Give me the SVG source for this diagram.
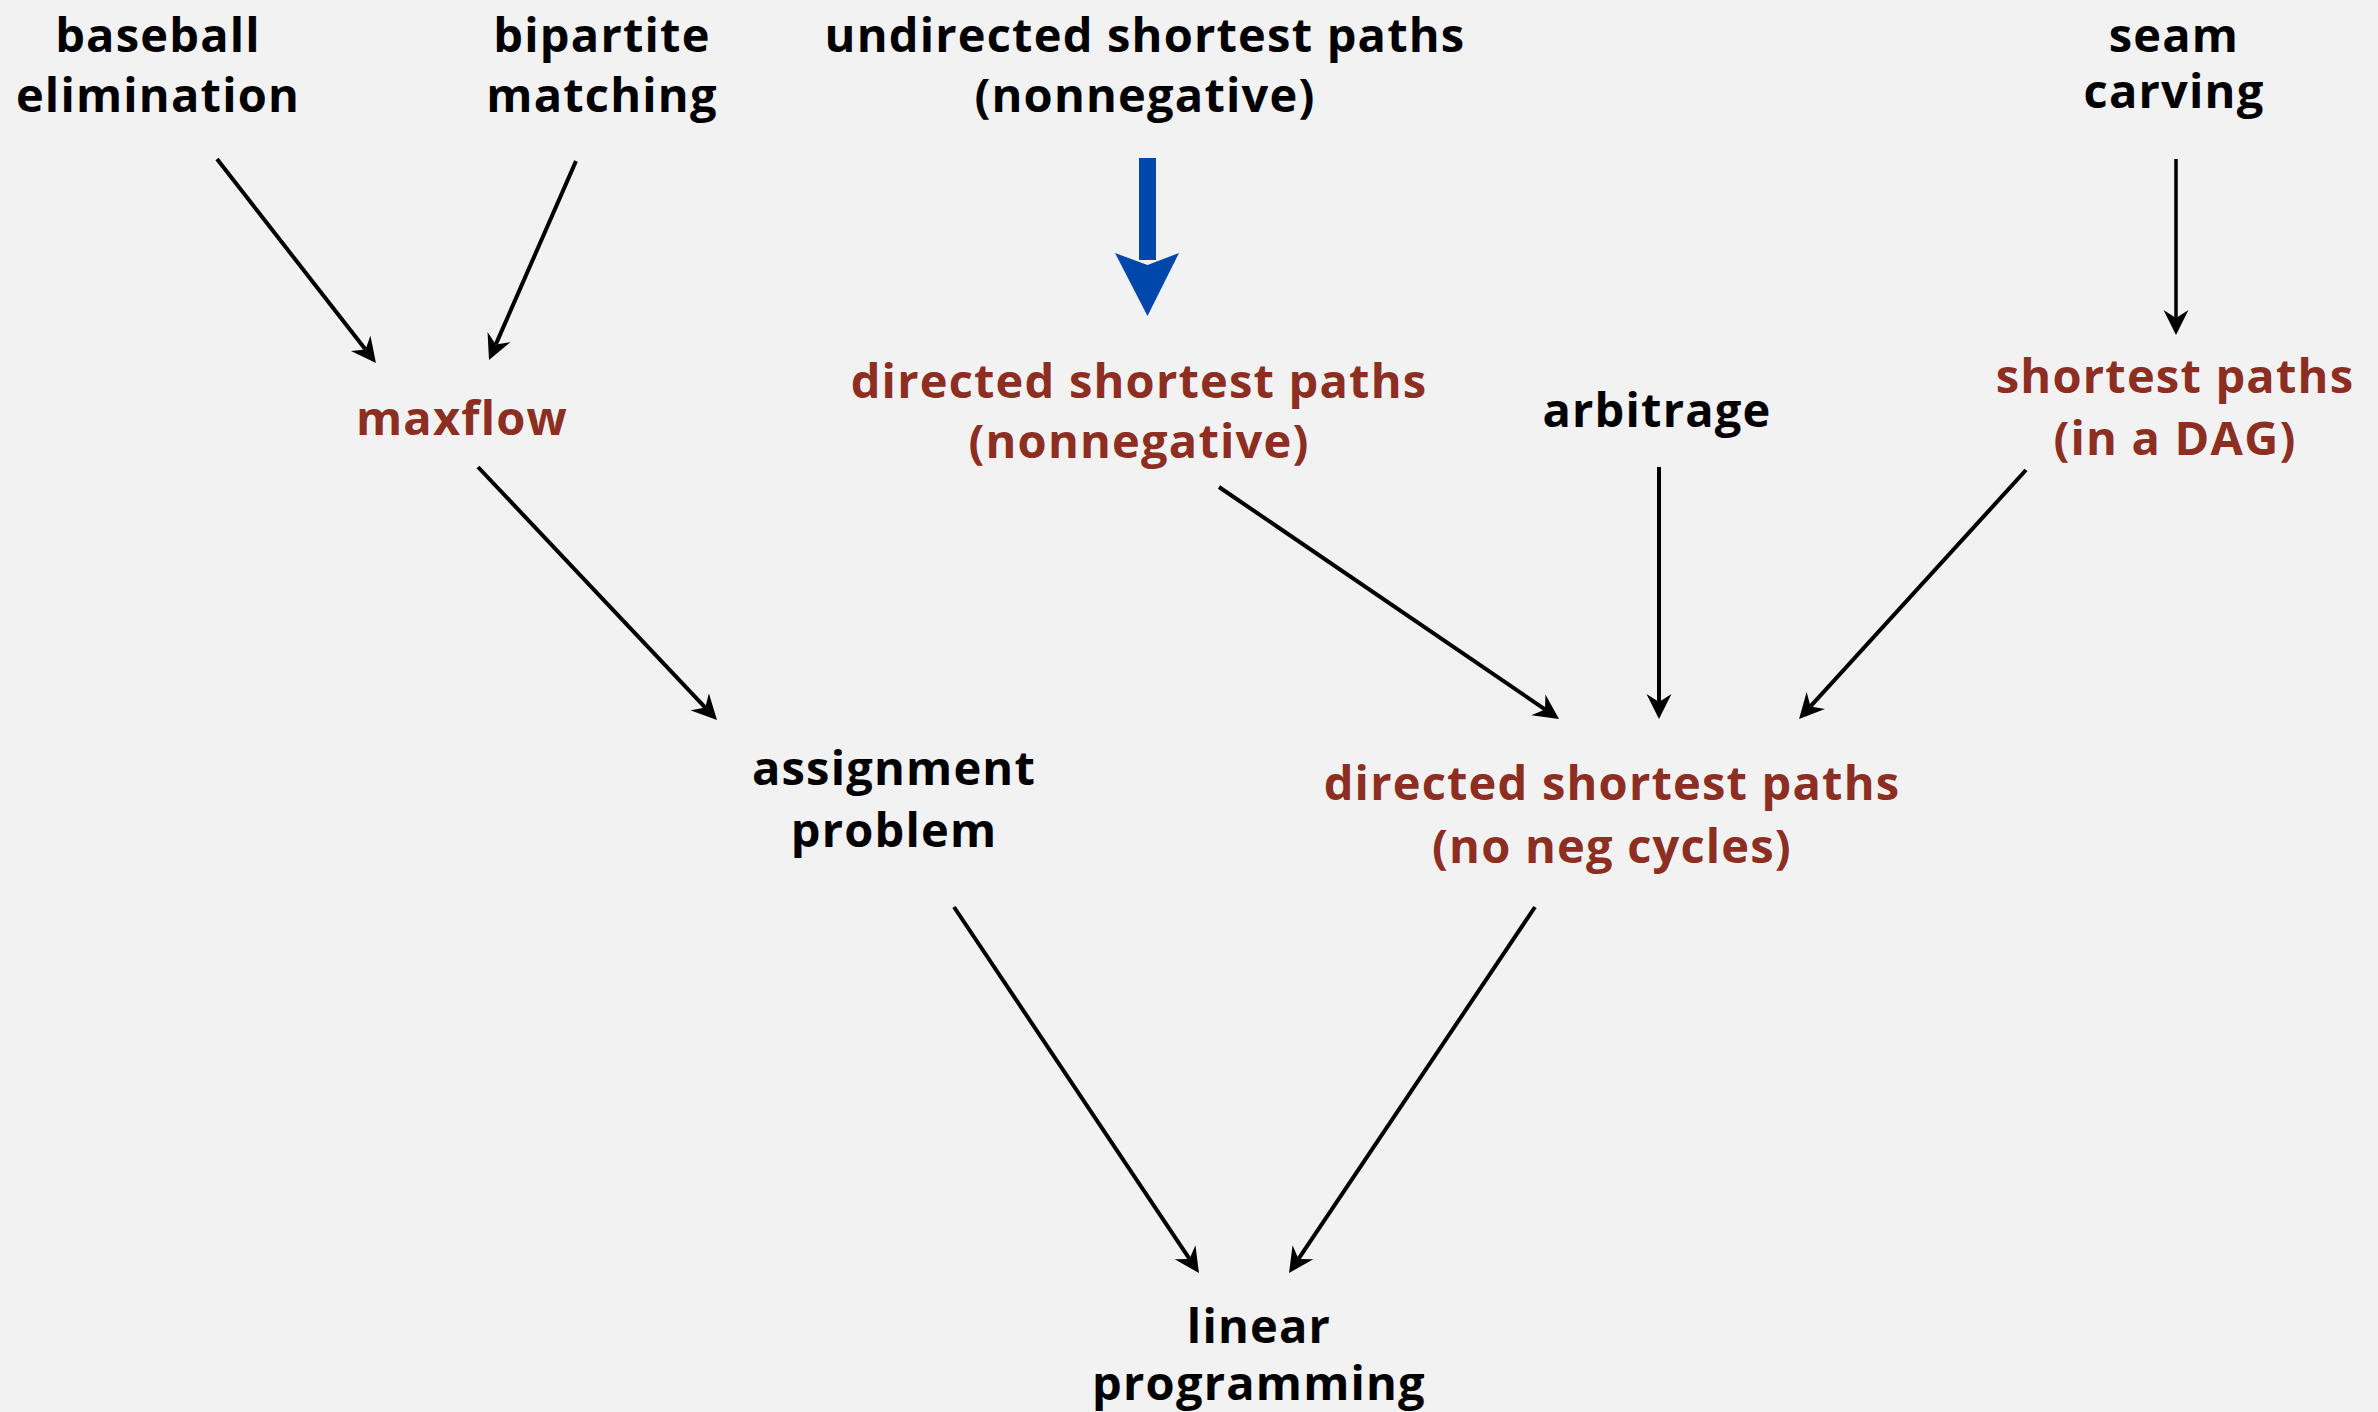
<svg xmlns="http://www.w3.org/2000/svg" width="2378" height="1412" viewBox="0 0 2378 1412">
<defs>
<style>
text{font-family:"Open Sans","Noto Sans","DejaVu Sans",sans-serif;font-weight:bold;font-size:47px;letter-spacing:1.2px;text-anchor:middle}
.k{fill:#000}
.r{fill:#8C2E22}
.e{stroke:#000;stroke-width:4;fill:none;marker-end:url(#ah)}
</style>
<marker id="ah" markerUnits="userSpaceOnUse" markerWidth="26" markerHeight="26" viewBox="0 -13 26 26" refX="8" refY="0" orient="auto">
<path d="M25,0 L0,-12.5 L8,0 L0,12.5 Z" fill="#000"/>
</marker>
</defs>
<rect width="2378" height="1412" fill="#F2F2F2"/>
<g id="connectors">
<line class="e" x1="217" y1="159" x2="365.5" y2="349.6"/>
<line class="e" x1="576" y1="161" x2="495.8" y2="344.4"/>
<line class="e" x1="478" y1="467" x2="705.3" y2="707.6"/>
<g id="blue-arrow" fill="#0047AB">
<rect x="1139" y="158" width="17" height="102"/>
<path d="M1115,253 L1147.5,265 L1179,253 L1147.5,316 Z"/>
</g>
<line class="e" x1="1219" y1="487" x2="1545" y2="709.4"/>
<line class="e" x1="1659" y1="467" x2="1659" y2="702"/>
<line class="e" x1="2026" y1="470" x2="1810.5" y2="706.4"/>
<line class="e" x1="2176" y1="159" x2="2176" y2="318" style="stroke-width:3.5"/>
<line class="e" x1="954" y1="907" x2="1189.5" y2="1258.9"/>
<line class="e" x1="1535" y1="907" x2="1298.5" y2="1258.9"/>
</g>
<g id="baseball"><text class="k" x="158" y="52">baseball</text><text class="k" x="158" y="112">elimination</text></g>
<g id="bipartite"><text class="k" x="602" y="52">bipartite</text><text class="k" x="602" y="112">matching</text></g>
<g id="undirected"><text class="k" x="1145" y="52">undirected shortest paths</text><text class="k" x="1145" y="112">(nonnegative)</text></g>
<g id="seam"><text class="k" x="2174" y="52">seam</text><text class="k" x="2174" y="108">carving</text></g>
<g id="maxflow"><text class="r" x="462" y="435">maxflow</text></g>
<g id="directed-nonneg"><text class="r" x="1139" y="398">directed shortest paths</text><text class="r" x="1139" y="458">(nonnegative)</text></g>
<g id="arbitrage"><text class="k" x="1657" y="427">arbitrage</text></g>
<g id="dag"><text class="r" x="2175" y="393">shortest paths</text><text class="r" x="2175" y="455">(in a DAG)</text></g>
<g id="assignment"><text class="k" x="894" y="785">assignment</text><text class="k" x="894" y="847">problem</text></g>
<g id="no-neg"><text class="r" x="1612" y="800">directed shortest paths</text><text class="r" x="1612" y="863">(no neg cycles)</text></g>
<g id="linear"><text class="k" x="1259" y="1343">linear</text><text class="k" x="1259" y="1400">programming</text></g>
</svg>
